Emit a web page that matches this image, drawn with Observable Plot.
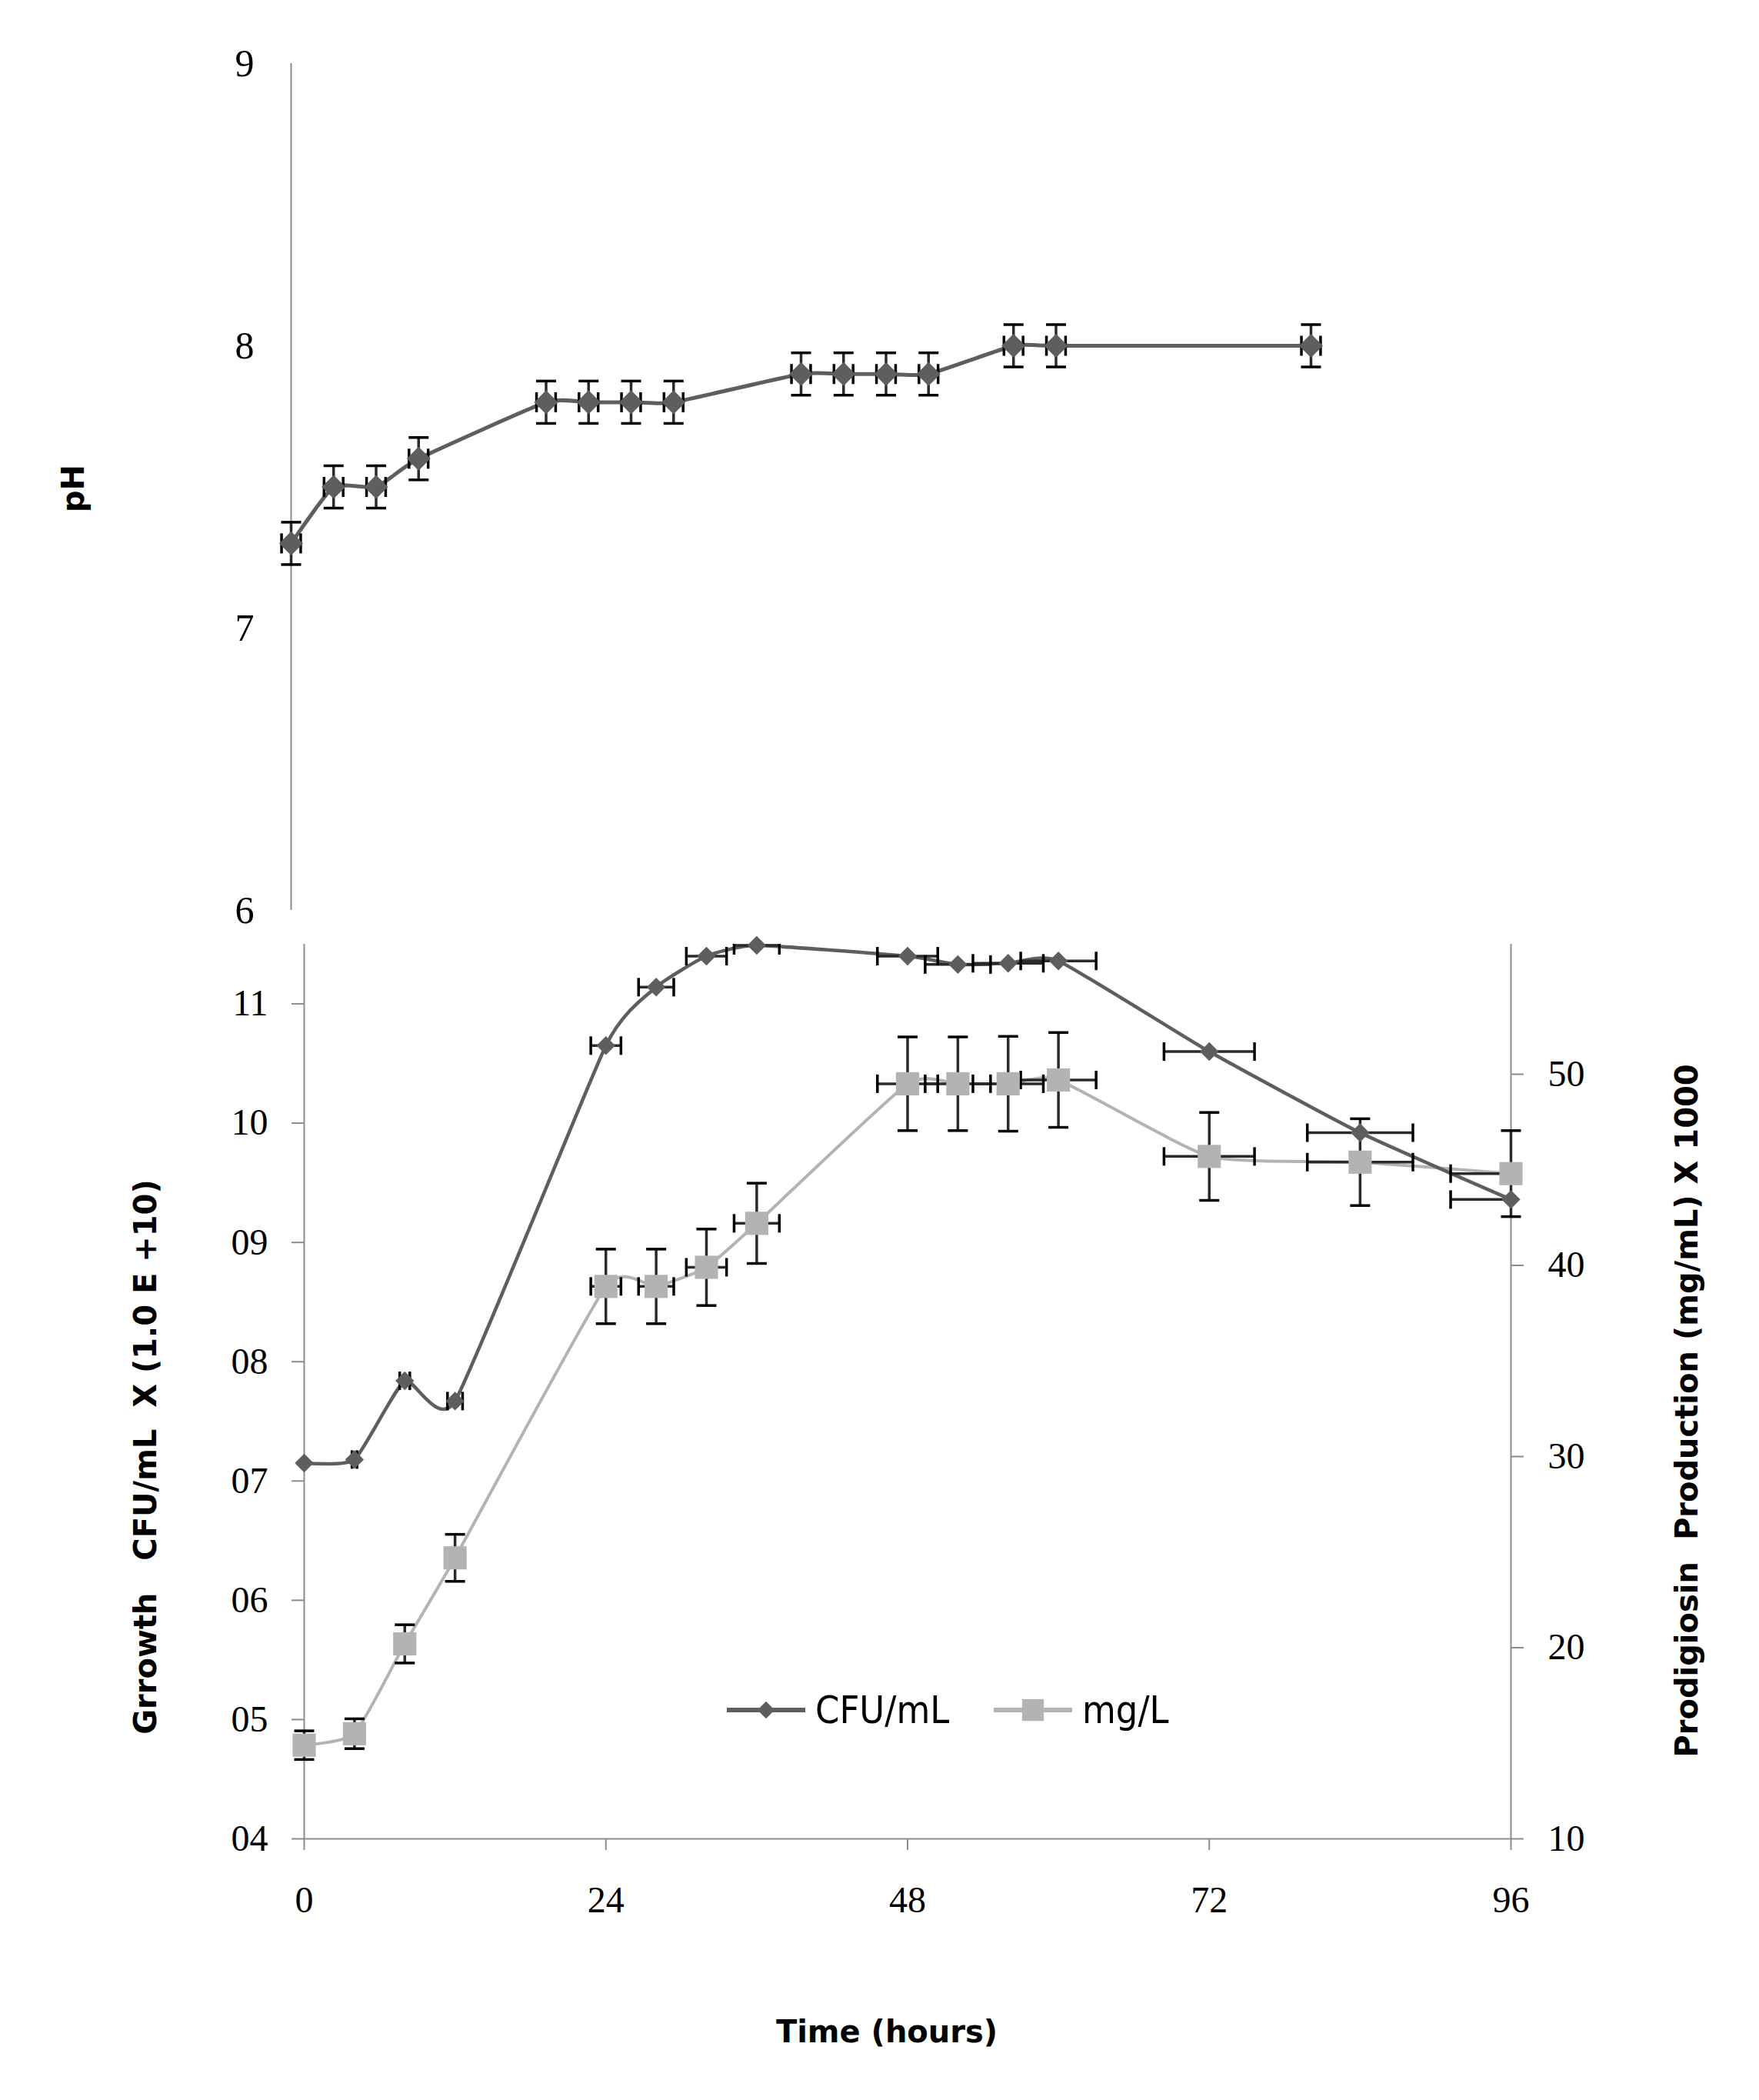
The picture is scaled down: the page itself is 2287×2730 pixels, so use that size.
<!DOCTYPE html>
<html lang="en">
<head>
<meta charset="UTF-8" />
<title>Growth, prodigiosin production and pH</title>
<style>
  body { margin: 0; background: #fff; }
  #chart { position: relative; width: 2287px; height: 2730px; }
  #chart svg { display: block; overflow: visible; background: none; }
  .legend-item {
    position: absolute;
    top: 2193px;
    height: 60px;
    display: flex;
    align-items: center;
    font-family: "Liberation Sans Narrow", "DejaVu Sans Condensed", sans-serif;
    font-size: 50px;
    color: #000;
  }
  .legend-item span { margin-left: 13px; }
</style>
</head>
<body>
<div id="chart"></div>

<script src="https://cdn.jsdelivr.net/npm/d3@7"></script>
<script src="https://cdn.jsdelivr.net/npm/@observablehq/plot@0.6"></script>
<script>
// lower chart: growth and prodigiosin against time
const time = [0, 4, 8, 12, 24, 28, 32, 36, 48, 52, 56, 60, 72, 84, 96];
const cfu = [7.15, 7.18, 7.84, 7.67, 10.65, 11.14, 11.40, 11.49, 11.40, 11.33, 11.34, 11.36, 10.60, 9.92, 9.36];
const mg = [14.9, 15.5, 20.2, 24.7, 38.9, 38.9, 39.9, 42.2, 49.5, 49.5, 49.5, 49.7, 45.7, 45.4, 44.8];
const timeErr = [0, 0.2, 0.4, 0.6, 1.2, 1.4, 1.6, 1.8, 2.4, 2.6, 2.8, 3.0, 3.6, 4.2, 4.8];
const mgErr = [0.75, 0.78, 1.0, 1.23, 1.95, 1.95, 2.0, 2.1, 2.45, 2.45, 2.48, 2.48, 2.3, 2.27, 2.25];

// upper chart: pH
const phTime = [0, 4, 8, 12, 24, 28, 32, 36, 48, 52, 56, 60, 68, 72, 96];
const ph = [7.3, 7.5, 7.5, 7.6, 7.8, 7.8, 7.8, 7.8, 7.9, 7.9, 7.9, 7.9, 8.0, 8.0, 8.0];
const phErr = 0.075;
const phTimeErr = 0.9;

// axes
const timeTicks = [0, 24, 48, 72, 96];
const cfuTicks = [4, 5, 6, 7, 8, 9, 10, 11];
const mgTicks = [10, 20, 30, 40, 50];
const phTicks = [6, 7, 8, 9];
const cfuDomain = [4, 11.5];
const mgDomain = [10, 56.8];

const series = [
  { label: "CFU/mL", color: "#5e5e5e", symbol: d3.symbolDiamond2, size: 320 },
  { label: "mg/L", color: "#b3b3b3", symbol: d3.symbolSquare, size: 800 }
];

const toLeft = (v) => cfuDomain[0] + (v - mgDomain[0]) * (cfuDomain[1] - cfuDomain[0]) / (mgDomain[1] - mgDomain[0]);
const fromLeft = (v) => mgDomain[0] + (v - cfuDomain[0]) * (mgDomain[1] - mgDomain[0]) / (cfuDomain[1] - cfuDomain[0]);

// error bar caps as custom symbols (half width = r)
const capH = { draw(ctx, size) { const w = Math.sqrt(size / Math.PI); ctx.moveTo(-w, 0); ctx.lineTo(w, 0); } };
const capV = { draw(ctx, size) { const w = Math.sqrt(size / Math.PI); ctx.moveTo(0, -w); ctx.lineTo(0, w); } };

// Excel-like smoothed line
const smooth = d3.curveCardinal.tension(0.5);
const barColor = "#2a2a2a";
const barWidth = 3.5;
const axisColor = "#8c8c8c";
const titleFont = { fontFamily: "DejaVu Sans, sans-serif", fontSize: 40, fontWeight: "bold", fill: "black", textAnchor: "middle", lineAnchor: "middle" };

const cfuRows = time.map((t, i) => ({ t, v: cfu[i], xe: timeErr[i] }));
const mgRows = time.map((t, i) => ({ t, v: toLeft(mg[i]), lo: toLeft(mg[i] - mgErr[i]), hi: toLeft(mg[i] + mgErr[i]), xe: timeErr[i] }));
const phRows = phTime.map((t, i) => ({ t, v: ph[i] }));

function xBars(rows) {
  const r = rows.filter((d) => d.xe > 0);
  return [
    Plot.ruleY(r, { y: "v", x1: (d) => d.t - d.xe, x2: (d) => d.t + d.xe, stroke: barColor, strokeWidth: barWidth, clip: true }),
    Plot.dot(r, { x: (d) => d.t - d.xe, y: "v", symbol: capV, r: 12, fill: "none", stroke: "black", strokeWidth: barWidth, clip: true }),
    Plot.dot(r, { x: (d) => d.t + d.xe, y: "v", symbol: capV, r: 12, fill: "none", stroke: "black", strokeWidth: barWidth, clip: true })
  ];
}

const phChart = Plot.plot({
  width: 2287,
  height: 1205,
  marginLeft: 378,
  marginRight: 583,
  marginTop: 82,
  marginBottom: 22,
  style: { fontFamily: "Liberation Serif, serif", fontSize: "50px", color: "black" },
  x: { domain: [0, 96], axis: null },
  y: { domain: [6, 9] },
  marks: [
    Plot.ruleX([0], { stroke: axisColor, strokeWidth: 2 }),
    Plot.axisY({ ticks: phTicks, tickFormat: d3.format("d"), tickSize: 0, tickPadding: 48, label: null }),
    Plot.line(phRows, { x: "t", y: "v", stroke: series[0].color, strokeWidth: 5, curve: smooth }),
    Plot.ruleX(phRows, { x: "t", y1: (d) => d.v - phErr, y2: (d) => d.v + phErr, stroke: barColor, strokeWidth: barWidth }),
    Plot.dot(phRows, { x: "t", y: (d) => d.v - phErr, symbol: capH, r: 13, fill: "none", stroke: "black", strokeWidth: barWidth }),
    Plot.dot(phRows, { x: "t", y: (d) => d.v + phErr, symbol: capH, r: 13, fill: "none", stroke: "black", strokeWidth: barWidth }),
    Plot.ruleY(phRows, { y: "v", x1: (d) => d.t - phTimeErr, x2: (d) => d.t + phTimeErr, stroke: barColor, strokeWidth: barWidth }),
    Plot.dot(phRows, { x: (d) => d.t - phTimeErr, y: "v", symbol: capV, r: 13, fill: "none", stroke: "black", strokeWidth: barWidth }),
    Plot.dot(phRows, { x: (d) => d.t + phTimeErr, y: "v", symbol: capV, r: 13, fill: "none", stroke: "black", strokeWidth: barWidth }),
    Plot.dot(phRows, { x: "t", y: "v", symbol: series[0].symbol, r: 14, fill: series[0].color, stroke: "none" }),
    Plot.text(["pH"], { text: (d) => d, frameAnchor: "left", rotate: -90, dx: -282, dy: 2, ...titleFont })
  ]
});

const growthChart = Plot.plot({
  width: 2287,
  height: 1525,
  marginLeft: 395,
  marginRight: 323,
  marginTop: 22,
  marginBottom: 340,
  style: { fontFamily: "Liberation Serif, serif", fontSize: "48px", color: "black" },
  x: { domain: [0, 96] },
  y: { domain: cfuDomain },
  marks: [
    Plot.ruleX([0], { stroke: axisColor, strokeWidth: 2 }),
    Plot.ruleX([96], { stroke: axisColor, strokeWidth: 2 }),
    Plot.ruleY([cfuDomain[0]], { stroke: axisColor, strokeWidth: 2 }),
    Plot.axisX({ ticks: timeTicks, tickSize: 15, tickPadding: 46, stroke: axisColor, strokeWidth: 2, label: null }),
    Plot.axisY({ ticks: cfuTicks, tickFormat: (d) => String(d).padStart(2, "0"), tickSize: 16, tickPadding: 31, stroke: axisColor, strokeWidth: 2, label: null }),
    Plot.axisY(mgTicks.map(toLeft), { anchor: "right", tickFormat: (d) => String(Math.round(fromLeft(d))), tickSize: 16, tickPadding: 32, stroke: axisColor, strokeWidth: 2, label: null }),

    Plot.line(mgRows, { x: "t", y: "v", stroke: series[1].color, strokeWidth: 4, curve: smooth }),
    Plot.line(cfuRows, { x: "t", y: "v", stroke: series[0].color, strokeWidth: 4.5, curve: smooth }),

    ...xBars(cfuRows),
    ...xBars(mgRows),
    Plot.ruleX(mgRows, { x: "t", y1: "lo", y2: "hi", stroke: barColor, strokeWidth: barWidth }),
    Plot.dot(mgRows, { x: "t", y: "lo", symbol: capH, r: 13, fill: "none", stroke: "black", strokeWidth: barWidth }),
    Plot.dot(mgRows, { x: "t", y: "hi", symbol: capH, r: 13, fill: "none", stroke: "black", strokeWidth: barWidth }),

    Plot.dot(cfuRows, { x: "t", y: "v", symbol: series[0].symbol, r: 11, fill: series[0].color, stroke: "none" }),
    Plot.dot(mgRows, { x: "t", y: "v", symbol: series[1].symbol, r: 17, fill: series[1].color, stroke: "none" }),

    Plot.text(["Grrowth\u00a0\u00a0 CFU/mL\u00a0 X (1.0 E +10)"], { text: (d) => d, frameAnchor: "left", rotate: -90, dx: -205, dy: 85, ...titleFont }),
    Plot.text(["Prodigiosin\u00a0 Production (mg/mL) X 1000"], { text: (d) => d, frameAnchor: "right", rotate: -90, dx: 230, dy: 25, ...titleFont }),
    Plot.text(["Time (hours)"], { text: (d) => d, frameAnchor: "bottom", dx: -27, dy: 252, ...titleFont })
  ]
});

const chart = document.querySelector("#chart");
chart.append(phChart, growthChart);

// legend inside the lower chart
const legendLeft = [945, 1292];
series.forEach((s, i) => {
  const item = document.createElement("div");
  item.className = "legend-item";
  item.style.left = legendLeft[i] + "px";
  const marker = d3.symbol(s.symbol, s.size)();
  item.innerHTML =
    `<svg width="102" height="60"><line x1="0" x2="102" y1="30" y2="30" stroke="${s.color}" stroke-width="6"/>` +
    `<path d="${marker}" transform="translate(51,30)" fill="${s.color}"/></svg><span>${s.label}</span>`;
  chart.append(item);
});
</script>
</body>
</html>
